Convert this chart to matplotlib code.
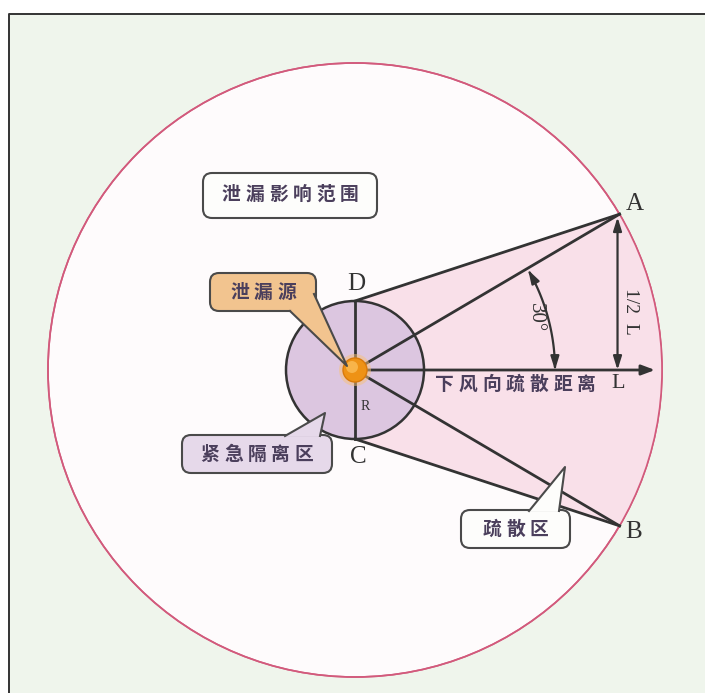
import numpy as np
import matplotlib
matplotlib.use("Agg")
import matplotlib.pyplot as plt
from matplotlib.patches import Circle, Polygon, FancyBboxPatch, FancyArrowPatch, Rectangle
from matplotlib.path import Path

plt.rcParams['font.family'] = ['Noto Sans CJK SC', 'DejaVu Sans']

# ---- geometry (pixel space of the diagram) ----
center = (355, 370)
big_radius = 307
inner_radius = 69
angle_A = 30.5          # degrees above downwind axis
angle_B = -30.5
arc_radius = 200        # 30 degree marker arc
arc_angle = 30
downwind_end = 655
source_radius = 12

# labels
point_labels = ['A', 'B', 'C', 'D', 'L', 'R']
box_texts = ['泄漏影响范围', '泄漏源', '紧急隔离区', '疏散区']
axis_text = '下风向疏散距离'
half_text = '1/2  L'
angle_text = '30°'

# callout boxes: (x0, y0, x1, y1), fill, tail (base1, tip, base2)
boxes = [
    ((203, 173, 377, 218), '#fdfdfb', None),
    ((210, 273, 316, 311), '#f2c48f', ((290, 311), (347, 366), (314, 294))),
    ((182, 435, 332, 473), '#e6d9ea', ((285, 436), (325, 413), (320, 436))),
    ((461, 510, 570, 548), '#fdfdfb', ((529, 511), (565, 467), (559, 511))),
]
box_text_y = [194, 292, 454, 529]

BG = '#eff5ec'
LINE = '#333333'
TXT = '#4b3f5c'

fig = plt.figure(figsize=(7.05, 6.93), dpi=100)
fig.patch.set_facecolor('white')
ax = fig.add_axes([0, 0, 1, 1])
ax.set_xlim(0, 705)
ax.set_ylim(693, 0)
ax.set_aspect('auto')
ax.axis('off')

# background panel and frame
ax.add_patch(Rectangle((9, 14), 700, 690, facecolor=BG, edgecolor='none', zorder=0))
ax.plot([9, 9, 705], [693, 14, 14], color=LINE, lw=1.4, zorder=1, solid_capstyle='butt')

cx, cy = center


def polar(r, deg):
    t = np.radians(deg)
    return cx + r * np.cos(t), cy - r * np.sin(t)


# big circle (influence range)
ax.add_patch(Circle(center, big_radius, facecolor='#fefbfc', edgecolor='#d25a7c', lw=1.2, zorder=2))

A = polar(big_radius, angle_A)
B = polar(big_radius, angle_B)
D = (cx, cy - inner_radius)
C = (cx, cy + inner_radius)

# pink evacuation sector
arc_t = np.linspace(angle_A, angle_B, 60)
arc_pts = [polar(big_radius, t) for t in arc_t]
poly = [D] + arc_pts + [C]
ax.add_patch(Polygon(poly, closed=True, facecolor='#f9e0e9', edgecolor='none', zorder=3))
ax.add_patch(Circle(center, big_radius, facecolor='none', edgecolor='#d25a7c', lw=1.2, zorder=3.5))

# inner isolation circle
ax.add_patch(Circle(center, inner_radius, facecolor='#dcc6e0', edgecolor=LINE, lw=1.8, zorder=4))

lw = 2.0
ax.plot([D[0], A[0]], [D[1], A[1]], color=LINE, lw=lw, zorder=5)
ax.plot([C[0], B[0]], [C[1], B[1]], color=LINE, lw=lw, zorder=5)
ax.plot([cx, A[0]], [cy, A[1]], color=LINE, lw=lw, zorder=5)
ax.plot([cx, B[0]], [cy, B[1]], color=LINE, lw=lw, zorder=5)
ax.plot([D[0], C[0]], [D[1], C[1]], color=LINE, lw=lw, zorder=5)

# downwind axis arrow
ax.add_patch(FancyArrowPatch((cx, cy), (downwind_end, cy), arrowstyle='-|>,head_length=8,head_width=3',
                             color=LINE, lw=lw, zorder=5, shrinkA=0, shrinkB=0))

# 1/2 L double arrow
ax.add_patch(FancyArrowPatch((A[0] - 2, A[1] + 3), (A[0] - 2, cy), arrowstyle='<|-|>,head_length=8,head_width=2.5',
                             color=LINE, lw=1.6, zorder=5, shrinkA=0, shrinkB=0))

# 30 degree arc arrow
t = np.linspace(arc_angle, 0, 40)
pts = np.array([polar(arc_radius, a) for a in t])
codes = [Path.MOVETO] + [Path.LINETO] * (len(pts) - 1)
ax.add_patch(FancyArrowPatch(path=Path(pts, codes), arrowstyle='<|-|>,head_length=8,head_width=2.5',
                             color=LINE, lw=1.6, zorder=5, shrinkA=0, shrinkB=0))

# leak source dot
ax.add_patch(Circle(center, source_radius + 4, facecolor='#f7c27a', edgecolor='none', alpha=0.5, zorder=6))
ax.add_patch(Circle(center, source_radius, facecolor='#ee9215', edgecolor='#d97a0a', lw=1, zorder=6))
ax.add_patch(Circle((cx - 3, cy - 3), source_radius * 0.5, facecolor='#f8b449', edgecolor='none', zorder=6))


def spaced(x0, x1, y, text, size, color=TXT):
    n = len(text)
    step = (x1 - x0) / n
    for i, ch in enumerate(text):
        ax.text(x0 + step * (i + 0.5), y, ch, fontsize=size, color=color, ha='center', va='center',
                fontweight='bold', zorder=9)


# callout boxes
for (rect, fc, tail), txt, ty in zip(boxes, box_texts, box_text_y):
    x0, y0, x1, y1 = rect
    ax.add_patch(FancyBboxPatch((x0, y0), x1 - x0, y1 - y0, boxstyle='round,pad=0,rounding_size=9',
                                facecolor=fc, edgecolor='#4a4a4a', lw=1.5, zorder=7))
    if tail is not None:
        b1, tip, b2 = tail
        ax.add_patch(Polygon([b1, tip, b2], closed=True, facecolor=fc, edgecolor='none', zorder=7.5))
        ax.plot([b1[0], tip[0], b2[0]], [b1[1], tip[1], b2[1]], color='#4a4a4a', lw=1.5, zorder=7.6)
    tw = 23.5 * len(txt)
    xc = (x0 + x1) / 2
    spaced(xc - tw / 2, xc + tw / 2, ty, txt, 13.5)

# downwind text
spaced(433, 598, 384, axis_text, 13.5)

# point letters
serif = 'Liberation Serif'
ax.text(A[0] + 6, A[1] - 10, 'A', fontsize=18, family=serif, color='#333', ha='left', va='center', zorder=9)
ax.text(B[0] + 6, B[1] + 6, 'B', fontsize=18, family=serif, color='#333', ha='left', va='center', zorder=9)
ax.text(C[0] + 3, C[1] + 18, 'C', fontsize=18, family=serif, color='#333', ha='center', va='center', zorder=9)
ax.text(D[0] + 1, D[1] - 17, 'D', fontsize=18, family=serif, color='#333', ha='center', va='center', zorder=9)
ax.text(618, 384, 'L', fontsize=16, family=serif, color='#333', ha='center', va='center', zorder=9)
ax.text(cx + 10, cy + 36, 'R', fontsize=10, family=serif, color='#333', ha='center', va='center', zorder=9)

ax.text(631, 311, half_text, fontsize=14, family=serif, color='#333', ha='center', va='center',
        rotation=270, zorder=9)
ax.text(535, 318, angle_text, fontsize=15, family=serif, color='#333', ha='center', va='center',
        rotation=270, zorder=9)

fig.savefig('out.png', dpi=100, facecolor=fig.get_facecolor())
